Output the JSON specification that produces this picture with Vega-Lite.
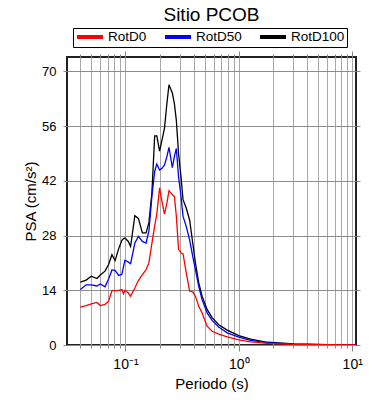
{
  "$schema": "https://vega.github.io/schema/vega-lite/v6.json",
  "width": 289,
  "height": 288,
  "autosize": {"type": "none"},
  "padding": {"left": 67, "top": 57, "right": 34, "bottom": 55},
  "background": "white",
  "title": {"text": "Sitio PCOB", "fontSize": 19, "fontWeight": "normal", "font": "Liberation Sans", "color": "black", "anchor": "middle", "offset": 3},
  "config": {
    "view": {"stroke": "#222", "strokeWidth": 2},
    "font": "Liberation Sans"
  },
  "data": {"values": [
    {"T": 0.04, "s": "RotD100", "v": 16.1}, {"T": 0.04, "s": "RotD50", "v": 14.2}, {"T": 0.04, "s": "RotD0", "v": 9.7},
    {"T": 0.045, "s": "RotD100", "v": 16.6}, {"T": 0.045, "s": "RotD50", "v": 15.4}, {"T": 0.045, "s": "RotD0", "v": 10.1},
    {"T": 0.05, "s": "RotD100", "v": 17.6}, {"T": 0.05, "s": "RotD50", "v": 15.4}, {"T": 0.05, "s": "RotD0", "v": 10.5},
    {"T": 0.056, "s": "RotD100", "v": 17.0}, {"T": 0.056, "s": "RotD50", "v": 15.1}, {"T": 0.056, "s": "RotD0", "v": 10.9},
    {"T": 0.06, "s": "RotD100", "v": 17.9}, {"T": 0.06, "s": "RotD50", "v": 15.6}, {"T": 0.06, "s": "RotD0", "v": 10.1},
    {"T": 0.066, "s": "RotD100", "v": 18.9}, {"T": 0.066, "s": "RotD50", "v": 14.9}, {"T": 0.066, "s": "RotD0", "v": 10.4},
    {"T": 0.071, "s": "RotD100", "v": 20.6}, {"T": 0.071, "s": "RotD50", "v": 16.9}, {"T": 0.071, "s": "RotD0", "v": 11.2},
    {"T": 0.076, "s": "RotD100", "v": 23.1}, {"T": 0.076, "s": "RotD50", "v": 19.2}, {"T": 0.076, "s": "RotD0", "v": 13.9},
    {"T": 0.081, "s": "RotD100", "v": 21.6}, {"T": 0.081, "s": "RotD50", "v": 19.1}, {"T": 0.081, "s": "RotD0", "v": 13.9},
    {"T": 0.087, "s": "RotD100", "v": 24.6}, {"T": 0.087, "s": "RotD50", "v": 17.8}, {"T": 0.087, "s": "RotD0", "v": 14.0},
    {"T": 0.093, "s": "RotD100", "v": 26.8}, {"T": 0.093, "s": "RotD50", "v": 18.1}, {"T": 0.093, "s": "RotD0", "v": 14.2},
    {"T": 0.096, "s": "RotD100", "v": 27.2}, {"T": 0.096, "s": "RotD50", "v": 20.0}, {"T": 0.096, "s": "RotD0", "v": 13.1},
    {"T": 0.099, "s": "RotD100", "v": 27.4}, {"T": 0.099, "s": "RotD50", "v": 21.7}, {"T": 0.099, "s": "RotD0", "v": 14.0},
    {"T": 0.106, "s": "RotD100", "v": 26.5}, {"T": 0.106, "s": "RotD50", "v": 21.2}, {"T": 0.106, "s": "RotD0", "v": 13.3},
    {"T": 0.111, "s": "RotD100", "v": 25.2}, {"T": 0.111, "s": "RotD50", "v": 20.8}, {"T": 0.111, "s": "RotD0", "v": 12.5},
    {"T": 0.121, "s": "RotD100", "v": 33.1}, {"T": 0.121, "s": "RotD50", "v": 26.1}, {"T": 0.121, "s": "RotD0", "v": 14.6},
    {"T": 0.13, "s": "RotD100", "v": 32.4}, {"T": 0.13, "s": "RotD50", "v": 27.8}, {"T": 0.13, "s": "RotD0", "v": 16.5},
    {"T": 0.141, "s": "RotD100", "v": 28.7}, {"T": 0.141, "s": "RotD50", "v": 26.5}, {"T": 0.141, "s": "RotD0", "v": 18.0},
    {"T": 0.152, "s": "RotD100", "v": 28.7}, {"T": 0.152, "s": "RotD50", "v": 26.1}, {"T": 0.152, "s": "RotD0", "v": 19.3},
    {"T": 0.161, "s": "RotD100", "v": 31.3}, {"T": 0.161, "s": "RotD50", "v": 29.2}, {"T": 0.161, "s": "RotD0", "v": 21.0},
    {"T": 0.171, "s": "RotD100", "v": 38.9}, {"T": 0.171, "s": "RotD50", "v": 38.0}, {"T": 0.171, "s": "RotD0", "v": 26.0},
    {"T": 0.181, "s": "RotD100", "v": 53.5}, {"T": 0.181, "s": "RotD50", "v": 44.4}, {"T": 0.181, "s": "RotD0", "v": 30.5},
    {"T": 0.189, "s": "RotD100", "v": 53.5}, {"T": 0.189, "s": "RotD50", "v": 46.3}, {"T": 0.189, "s": "RotD0", "v": 33.5},
    {"T": 0.2, "s": "RotD100", "v": 49.6}, {"T": 0.2, "s": "RotD50", "v": 44.8}, {"T": 0.2, "s": "RotD0", "v": 40.2},
    {"T": 0.21, "s": "RotD100", "v": 52.5}, {"T": 0.21, "s": "RotD50", "v": 45.2}, {"T": 0.21, "s": "RotD0", "v": 36.7},
    {"T": 0.221, "s": "RotD100", "v": 55.5}, {"T": 0.221, "s": "RotD50", "v": 46.1}, {"T": 0.221, "s": "RotD0", "v": 33.5},
    {"T": 0.232, "s": "RotD100", "v": 61.8}, {"T": 0.232, "s": "RotD50", "v": 48.2}, {"T": 0.232, "s": "RotD0", "v": 36.3},
    {"T": 0.242, "s": "RotD100", "v": 66.6}, {"T": 0.242, "s": "RotD50", "v": 50.6}, {"T": 0.242, "s": "RotD0", "v": 39.5},
    {"T": 0.259, "s": "RotD100", "v": 64.5}, {"T": 0.259, "s": "RotD50", "v": 45.4}, {"T": 0.259, "s": "RotD0", "v": 38.5},
    {"T": 0.27, "s": "RotD100", "v": 61.8}, {"T": 0.27, "s": "RotD50", "v": 48.2}, {"T": 0.27, "s": "RotD0", "v": 38.0},
    {"T": 0.281, "s": "RotD100", "v": 57.5}, {"T": 0.281, "s": "RotD50", "v": 50.3}, {"T": 0.281, "s": "RotD0", "v": 33.0},
    {"T": 0.294, "s": "RotD100", "v": 49.0}, {"T": 0.294, "s": "RotD50", "v": 43.1}, {"T": 0.294, "s": "RotD0", "v": 24.5},
    {"T": 0.309, "s": "RotD100", "v": 43.0}, {"T": 0.309, "s": "RotD50", "v": 38.0}, {"T": 0.309, "s": "RotD0", "v": 23.6},
    {"T": 0.322, "s": "RotD100", "v": 37.2}, {"T": 0.322, "s": "RotD50", "v": 32.9}, {"T": 0.322, "s": "RotD0", "v": 23.3},
    {"T": 0.344, "s": "RotD100", "v": 35.0}, {"T": 0.344, "s": "RotD50", "v": 30.3}, {"T": 0.344, "s": "RotD0", "v": 18.4},
    {"T": 0.368, "s": "RotD100", "v": 32.0}, {"T": 0.368, "s": "RotD50", "v": 26.9}, {"T": 0.368, "s": "RotD0", "v": 13.8},
    {"T": 0.392, "s": "RotD100", "v": 26.1}, {"T": 0.392, "s": "RotD50", "v": 22.7}, {"T": 0.392, "s": "RotD0", "v": 13.6},
    {"T": 0.414, "s": "RotD100", "v": 21.0}, {"T": 0.414, "s": "RotD50", "v": 19.3}, {"T": 0.414, "s": "RotD0", "v": 12.5},
    {"T": 0.443, "s": "RotD100", "v": 15.9}, {"T": 0.443, "s": "RotD50", "v": 15.0}, {"T": 0.443, "s": "RotD0", "v": 9.9},
    {"T": 0.474, "s": "RotD100", "v": 12.5}, {"T": 0.474, "s": "RotD50", "v": 11.6}, {"T": 0.474, "s": "RotD0", "v": 8.2},
    {"T": 0.525, "s": "RotD100", "v": 9.1}, {"T": 0.525, "s": "RotD50", "v": 8.2}, {"T": 0.525, "s": "RotD0", "v": 4.8},
    {"T": 0.581, "s": "RotD100", "v": 7.0}, {"T": 0.581, "s": "RotD50", "v": 6.3}, {"T": 0.581, "s": "RotD0", "v": 3.5},
    {"T": 0.665, "s": "RotD100", "v": 5.2}, {"T": 0.665, "s": "RotD50", "v": 4.6}, {"T": 0.665, "s": "RotD0", "v": 2.8},
    {"T": 0.789, "s": "RotD100", "v": 3.8}, {"T": 0.789, "s": "RotD50", "v": 3.1}, {"T": 0.789, "s": "RotD0", "v": 2.1},
    {"T": 1.0, "s": "RotD100", "v": 2.4}, {"T": 1.0, "s": "RotD50", "v": 2.0}, {"T": 1.0, "s": "RotD0", "v": 1.3},
    {"T": 1.27, "s": "RotD100", "v": 1.5}, {"T": 1.27, "s": "RotD50", "v": 1.2}, {"T": 1.27, "s": "RotD0", "v": 0.8},
    {"T": 1.78, "s": "RotD100", "v": 0.7}, {"T": 1.78, "s": "RotD50", "v": 0.6}, {"T": 1.78, "s": "RotD0", "v": 0.4},
    {"T": 3.07, "s": "RotD100", "v": 0.25}, {"T": 3.07, "s": "RotD50", "v": 0.2}, {"T": 3.07, "s": "RotD0", "v": 0.15},
    {"T": 6.0, "s": "RotD100", "v": 0.1}, {"T": 6.0, "s": "RotD50", "v": 0.08}, {"T": 6.0, "s": "RotD0", "v": 0.06},
    {"T": 10.7, "s": "RotD100", "v": 0.05}, {"T": 10.7, "s": "RotD50", "v": 0.04}, {"T": 10.7, "s": "RotD0", "v": 0.03}
  ]},
  "layer": [
    {
      "mark": {"type": "line", "strokeWidth": 1.3, "clip": true},
      "encoding": {
        "x": {
          "field": "T", "type": "quantitative",
          "scale": {"type": "log", "domain": [0.0305, 10.8], "nice": false},
          "axis": {
            "orient": "bottom",
            "title": "Periodo (s)",
            "titleFontSize": 15, "titleFontWeight": "normal", "titleColor": "black", "titlePadding": 5,
            "values": [0.04, 0.05, 0.06, 0.07, 0.08, 0.09, 0.1, 0.2, 0.3, 0.4, 0.5, 0.6, 0.7, 0.8, 0.9, 1, 2, 3, 4, 5, 6, 7, 8, 9, 10],
            "labelExpr": "datum.value == 0.1 ? '10⁻¹' : datum.value == 1 ? '10⁰' : datum.value == 10 ? '10¹' : ''",
            "labelFontSize": 14, "labelColor": "black", "labelPadding": 6, "labelFlush": false, "labelOverlap": false,
            "domain": false,
            "grid": true, "gridColor": "#a8a8a8", "gridWidth": 1, "gridOpacity": 1,
            "ticks": true, "tickColor": "#888",
            "tickSize": {"condition": {"test": "datum.value == 0.1 || datum.value == 1 || datum.value == 10", "value": 6}, "value": 3}
          }
        },
        "y": {
          "field": "v", "type": "quantitative",
          "scale": {"domain": [0, 73.7], "nice": false},
          "axis": {
            "orient": "left",
            "title": "PSA (cm/s²)",
            "titleFontSize": 15, "titleFontWeight": "normal", "titleColor": "black", "titlePadding": 3,
            "values": [0, 14, 28, 42, 56, 70],
            "labelFontSize": 13, "labelColor": "black", "labelPadding": 7,
            "domain": false,
            "grid": true, "gridColor": "#8c8c8c", "gridWidth": 1, "gridOpacity": 1,
            "tickSize": 4, "tickColor": "#888"
          }
        },
        "color": {
          "field": "s", "type": "nominal",
          "scale": {"domain": ["RotD0", "RotD50", "RotD100"], "range": ["#ff0000", "#0000ff", "#000000"]},
          "legend": {
            "title": null,
            "orient": "none", "legendX": 6, "legendY": -29,
            "direction": "horizontal",
            "symbolType": "M-1,0H4.2", "symbolStrokeWidth": 4, "symbolSize": 100,
            "labelFont": "Liberation Sans", "labelFontSize": 13.5, "labelColor": "black", "labelOffset": 19,
            "columnPadding": 10,
            "padding": 2,
            "strokeColor": "black"
          }
        }
      }
    },
    {
      "mark": {"type": "line", "opacity": 0},
      "encoding": {
        "x": {
          "field": "T", "type": "quantitative",
          "scale": {"type": "log", "domain": [0.0305, 10.8], "nice": false},
          "axis": {
            "orient": "top", "title": null, "labels": false, "grid": false, "domain": false,
            "values": [0.04, 0.05, 0.06, 0.07, 0.08, 0.09, 0.1, 0.2, 0.3, 0.4, 0.5, 0.6, 0.7, 0.8, 0.9, 1, 2, 3, 4, 5, 6, 7, 8, 9, 10],
            "tickColor": "#888",
            "tickSize": {"condition": {"test": "datum.value == 0.1 || datum.value == 1 || datum.value == 10", "value": 6}, "value": 3}
          }
        },
        "y": {
          "field": "v", "type": "quantitative",
          "scale": {"domain": [0, 73.7], "nice": false},
          "axis": {
            "orient": "right", "title": null, "labels": false, "grid": false, "domain": false,
            "values": [0, 14, 28, 42, 56, 70],
            "tickSize": 4, "tickColor": "#888"
          }
        },
        "detail": {"field": "s", "type": "nominal"}
      }
    }
  ],
  "resolve": {"axis": {"x": "independent", "y": "independent"}}
}
